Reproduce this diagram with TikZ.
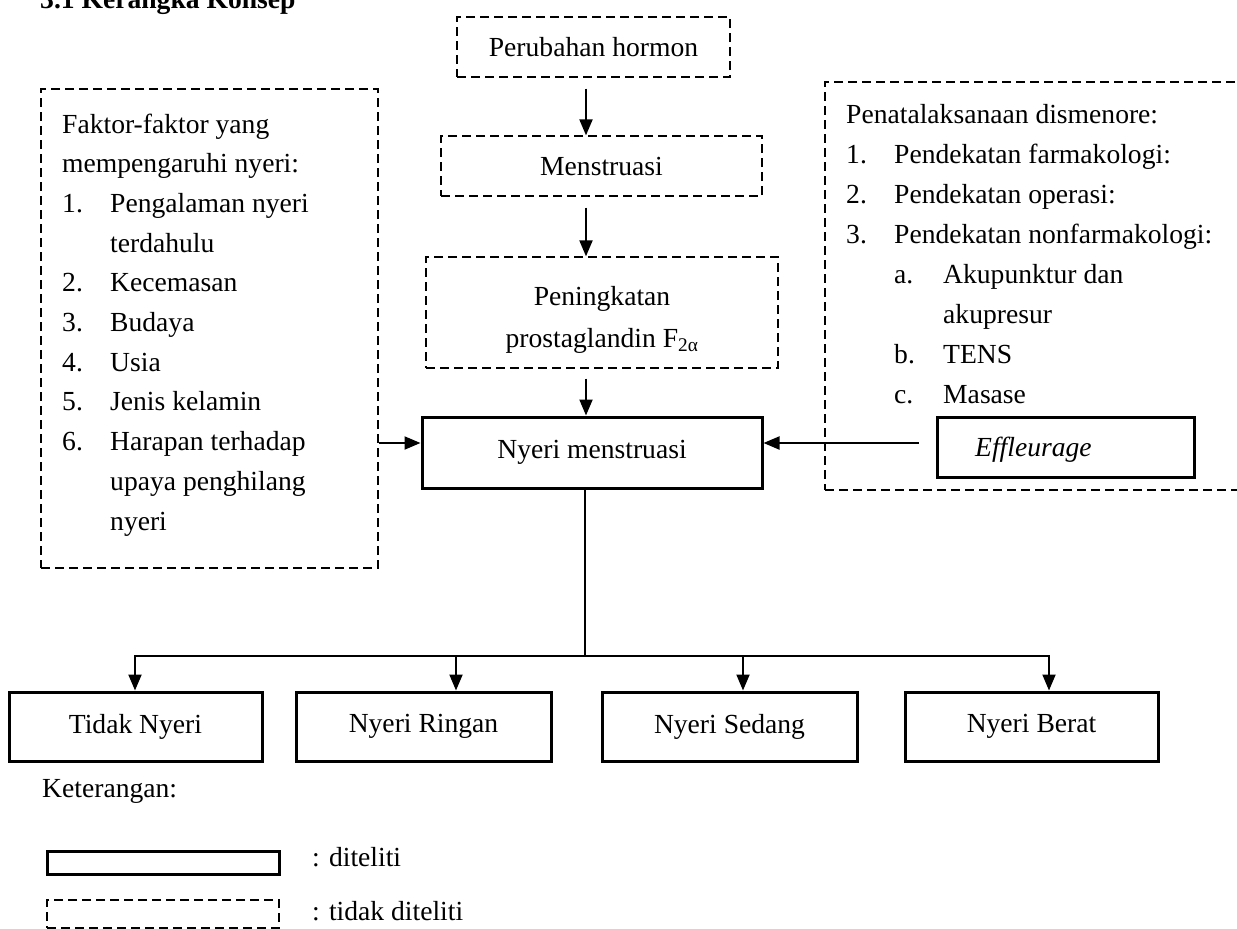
\documentclass[tikz,border=0pt]{standalone}
\usepackage{fontspec}
\setmainfont{Liberation Serif}
\usetikzlibrary{arrows.meta,calc}
\newcommand\dfont{\fontsize{27.6}{40}\selectfont}
\begin{document}
\begin{tikzpicture}[x=1pt,y=-1pt,
  every node/.style={font=\dfont, inner sep=0pt},
  dbox/.style={draw, dash pattern=on 9pt off 5pt, line width=1.3pt},
  sbox/.style={draw, line width=3pt},
  arr/.style={line width=2pt, -{Triangle[length=16pt,width=13pt]}},
  ln/.style={line width=2pt},
  txt/.style={anchor=base west}]
\useasboundingbox (0,0) rectangle (1237,929);

% title
\node[txt, font=\dfont\bfseries] (title) at (40,8) {3.1 Kerangka Konsep};

% central chain
\node[dbox, minimum width=273, minimum height=60] (ph) at (593.5,47) {Perubahan hormon};
\node[dbox, minimum width=321, minimum height=60] (me) at (601.5,166) {Menstruasi};
\node[dbox, minimum width=352, minimum height=111] (pk) at (602,312.5) {};
\node[align=center] (pkt) at (602,320) {Peningkatan\\[2pt]prostaglandin F\textsubscript{2α}};
\node[sbox, minimum width=340, minimum height=71] (nm) at (592,452.5) {Nyeri menstruasi};

% side boxes
\node[dbox, minimum width=337, minimum height=479] (lb) at (209.5,328.5) {};
\node[dbox, minimum width=435, minimum height=408] (rb) at (1042.5,286) {};
\node[sbox, minimum width=257, minimum height=60] (ef) at (1065.5,447) {};
\node[txt, font=\dfont\itshape] (eft) at (975,456) {Effleurage};

% left box text
\node[txt] (l0) at (62,133) {Faktor-faktor yang};
\node[txt] (l1) at (62,172.7) {mempengaruhi nyeri:};
\node[txt] (n1) at (62,212.4) {1.};
\node[txt] (i1) at (110,212.4) {Pengalaman nyeri};
\node[txt] (i1b) at (110,252.1) {terdahulu};
\node[txt] (n2) at (62,291.8) {2.};
\node[txt] (i2) at (110,291.8) {Kecemasan};
\node[txt] (n3) at (62,331.5) {3.};
\node[txt] (i3) at (110,331.5) {Budaya};
\node[txt] (n4) at (62,371.2) {4.};
\node[txt] (i4) at (110,371.2) {Usia};
\node[txt] (n5) at (62,410.9) {5.};
\node[txt] (i5) at (110,410.9) {Jenis kelamin};
\node[txt] (n6) at (62,450.6) {6.};
\node[txt] (i6) at (110,450.6) {Harapan terhadap};
\node[txt] (i6b) at (110,490.3) {upaya penghilang};
\node[txt] (i6c) at (110,530) {nyeri};

% right box text
\node[txt] (r0) at (846,123) {Penatalaksanaan dismenore:};
\node[txt] (rn1) at (846,163) {1.};
\node[txt] (ri1) at (894,163) {Pendekatan farmakologi:};
\node[txt] (rn2) at (846,203) {2.};
\node[txt] (ri2) at (894,203) {Pendekatan operasi:};
\node[txt] (rn3) at (846,243) {3.};
\node[txt] (ri3) at (894,243) {Pendekatan nonfarmakologi:};
\node[txt] (ra) at (894,283) {a.};
\node[txt] (rai) at (943,283) {Akupunktur dan};
\node[txt] (raib) at (943,323) {akupresur};
\node[txt] (rb2) at (894,363) {b.};
\node[txt] (rbi) at (943,363) {TENS};
\node[txt] (rc) at (894,403) {c.};
\node[txt] (rci) at (943,403) {Masase};

% bottom boxes
\node[sbox, minimum width=253, minimum height=69] (tn) at (135.5,726.5) {Tidak Nyeri};
\node[sbox, minimum width=255, minimum height=69] (nr) at (423.5,726.5) {Nyeri Ringan};
\node[sbox, minimum width=255, minimum height=69] (ns) at (729.5,726.5) {Nyeri Sedang};
\node[sbox, minimum width=253, minimum height=69] (nb) at (1031.5,726.5) {Nyeri Berat};

% legend
\node[txt] (ket) at (42,797) {Keterangan:};
\node[sbox, minimum width=232, minimum height=23] (lg1) at (163,862.5) {};
\node[dbox, minimum width=232, minimum height=28] (lg2) at (163,914) {};
\node[txt] (lt1) at (312,866) {: diteliti};
\node[txt] (lt2) at (312,920) {: tidak diteliti};

% connectors
\coordinate (cx) at (586,0);
\draw[arr, shorten <=11pt] (ph.south -| cx) -- (me.north -| cx);
\draw[arr, shorten <=11pt] (me.south -| cx) -- (pk.north -| cx);
\draw[arr, shorten <=10pt] (pk.south -| cx) -- (nm.north -| cx);
\coordinate (ly) at (0,443);
\draw[arr] (lb.east |- ly) -- (nm.west |- ly);
\draw[arr, shorten <=17pt] (ef.west |- ly) -- (nm.east |- ly);

\coordinate (bx) at (585,656);
\coordinate (h1) at (135,656);
\coordinate (h2) at (456,656);
\coordinate (h3) at (743,656);
\coordinate (h4) at (1049,656);
\draw[ln] (nm.south -| bx) -- (bx);
\draw[ln] ([xshift=-1pt]h1) -- ([xshift=1pt]h4);
\draw[arr] (h1) -- (h1 |- tn.north);
\draw[arr] (h2) -- (h2 |- nr.north);
\draw[arr] (h3) -- (h3 |- ns.north);
\draw[arr] (h4) -- (h4 |- nb.north);
\end{tikzpicture}
\end{document}
